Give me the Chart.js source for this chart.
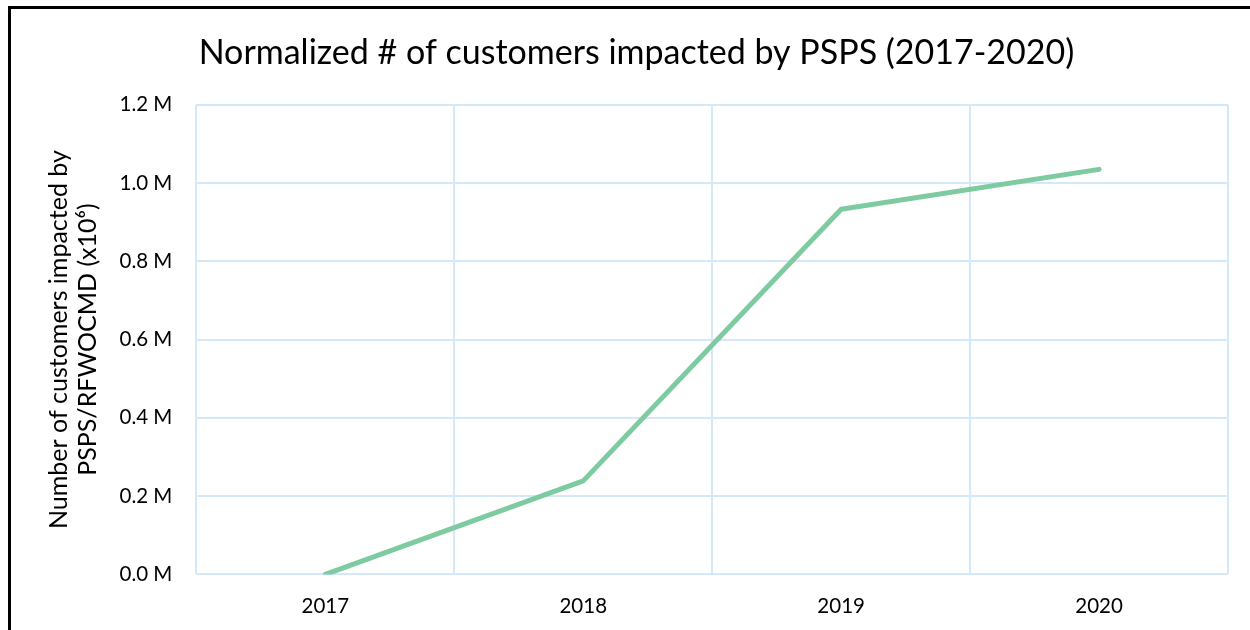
<!DOCTYPE html>
<html>
<head>
<meta charset="utf-8">
<script src="https://cdn.jsdelivr.net/npm/chart.js@4/dist/chart.umd.min.js"></script>
<style>
  html, body { margin: 0; padding: 0; background: #fff; }
  #wrap { position: relative; width: 1250px; height: 630px; overflow: hidden; }
  #frame { position: absolute; left: 8px; top: 6px; width: 1250px; height: 700px;
           border-left: 3px solid #000; border-top: 3px solid #000; box-sizing: border-box; }
  canvas { position: absolute; left: 0; top: 0; }
</style>
</head>
<body>
<div id="wrap">
  <div id="frame"></div>
  <canvas id="psps" width="1250" height="639"></canvas>
</div>
<script>
// Data for chart
const years = ['2017', '2018', '2019', '2020'];
const customersImpacted = [0.0, 0.239, 0.933, 1.035];
const yTicks = [0, 0.2, 0.4, 0.6, 0.8, 1.0, 1.2];

const font = "Lato, 'Open Sans', sans-serif";

new Chart(document.getElementById('psps'), {
  type: 'line',
  data: {
    labels: years,
    datasets: [
      {
        label: 'Customers impacted',
        data: customersImpacted,
        borderColor: '#7ecba1',
        borderWidth: 5,
        borderCapStyle: 'round',
        borderJoinStyle: 'round',
        pointRadius: 0,
        tension: 0,
      },
    ],
  },
  options: {
    responsive: false,
    animation: false,
    layout: { padding: { left: 45, right: 22, top: 30, bottom: 0 } },
    plugins: {
      legend: { display: false },
      tooltip: { enabled: false },
      title: {
        display: true,
        text: 'Normalized # of customers impacted by PSPS (2017-2020)',
        color: '#000',
        font: { family: font, size: 34, weight: 'normal' },
        padding: { top: 3, bottom: 31 },
      },
    },
    scales: {
      x: {
        offset: true,
        grid: { offset: true, color: '#d3e8f8', lineWidth: 2, drawTicks: false },
        border: { display: false },
        ticks: { color: '#000', padding: 20, font: { family: font, size: 20.5 } },
      },
      y: {
        min: 0,
        max: 1.2,
        afterBuildTicks: (axis) => { axis.ticks = yTicks.map((v) => ({ value: v })); },
        grid: { color: '#d3e8f8', lineWidth: 2, drawTicks: false },
        border: { display: false },
        ticks: {
          color: '#000',
          padding: 24,
          font: { family: font, size: 20.5 },
          callback: (v) => v.toFixed(1) + ' M',
        },
        title: {
          display: true,
          text: ['Number of customers impacted by', 'PSPS/RFWOCMD (x10\u2076)'],
          color: '#000',
          font: { family: font, size: 25, lineHeight: 1.15 },
          padding: { top: 0, bottom: -7 },
        },
      },
    },
  },
});
</script>
</body>
</html>
